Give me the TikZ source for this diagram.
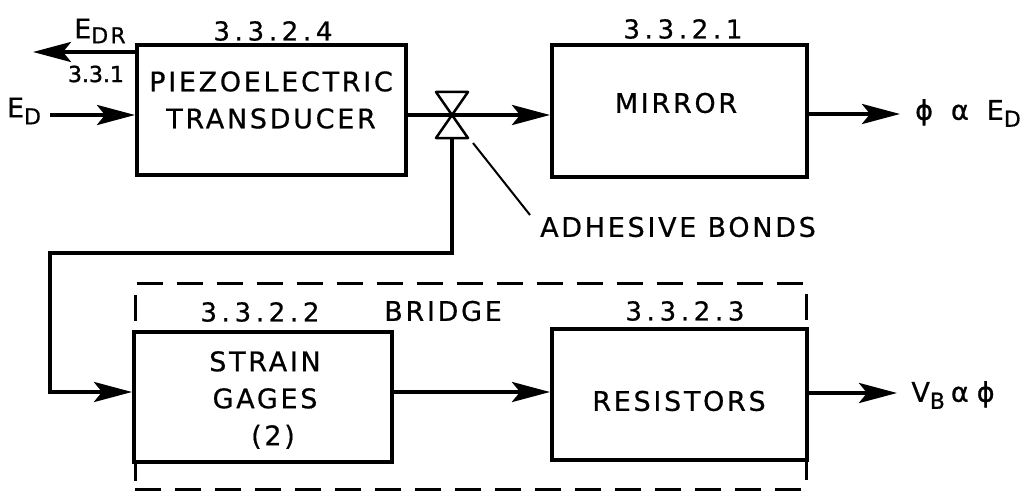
\documentclass[tikz,border=0pt]{standalone}
\usepackage{fontspec}
\setmainfont{DejaVu Sans}[LetterSpace=10,FakeBold=0.6]
\newfontfamily\numf{DejaVu Sans}[LetterSpace=18,FakeBold=0.6]
\newfontfamily\tightf{DejaVu Sans}[LetterSpace=0,FakeBold=1.5]
\newfontfamily\symf{DejaVu Sans}[FakeBold=1]
\usetikzlibrary{arrows.meta,calc}
\tikzset{
 box/.style={draw, line width=4pt, fill=white, inner sep=0pt},
 bridgebox/.style={draw, line width=3pt, dash pattern=on 26pt off 14pt, inner sep=0pt},
 txt/.style={font=\fontsize{27}{37}\selectfont, align=center, inner sep=0pt},
 num/.style={font=\fontsize{26}{28}\selectfont\numf, inner sep=0pt},
 conn/.style={line width=4pt, -{Stealth[length=38pt,width=20pt,inset=8pt]}},
 valve/.style={line width=2.5pt, fill=white, line join=round},
 leader/.style={line width=2pt},
}
\newcommand{\subtxt}[2][-7pt]{\raisebox{#1}{\fontsize{22}{22}\selectfont #2}}
\begin{document}
\begin{tikzpicture}[x=1pt,y=-1pt]
\useasboundingbox (0,0) rectangle (1030,492);
% bridge group
\node[bridgebox, minimum width=671pt, minimum height=206pt] (br) at (470.5,386) {};
% boxes
\node[box, minimum width=269pt, minimum height=130pt] (pz) at (271.5,110) {};
\node[box, minimum width=255pt, minimum height=132pt] (mr) at (679.5,111) {};
\node[box, minimum width=258pt, minimum height=130pt] (sg) at (263,397) {};
\node[box, minimum width=255pt, minimum height=131pt] (rs) at (679.5,394.5) {};
% box texts
\node[txt] (pzt) at (271,100) {PIEZOELECTRIC\\TRANSDUCER};
\node[txt] (mrt) at (676,103) {MIRROR};
\node[txt] (sgt) at (265,400) {STRAIN\\GAGES\\\hspace*{16pt}(2)};
\node[txt] (rst) at (679,401) {RESISTORS};
% labels
\node[num] (n4) at (273,31) {3.3.2.4};
\node[num] (n1) at (683,29) {3.3.2.1};
\node[num] (n2) at (260,312) {3.3.2.2};
\node[num] (n3) at (685,311) {3.3.2.3};
\node[txt] (brt) at (443,311) {BRIDGE};
\node[txt] (adh) at (678,227) {ADHESIVE BONDS};
\node[font=\fontsize{22}{22}\selectfont\tightf, inner sep=0pt] (n331) at (96,74) {3.3.1};
\node[txt] (edrt) at (100,31) {E\subtxt[-5pt]{DR}};
\node[txt] (edt) at (24,111) {E\subtxt{D}};
\node[txt] (phit) at (968,113) {{\symf ϕ}\hspace{18pt}{\symf α}\hspace{18pt}E\subtxt{D}};
\node[txt] (vbt) at (953,395) {V\subtxt{B}\hspace{6pt}{\symf α}\hspace{8pt}{\symf ϕ}};
% coordinates
\coordinate (edr) at (33,52);
\coordinate (edin) at (50,115);
\coordinate (vl) at (452,115);
\coordinate (phiend) at (900,114);
\coordinate (lc) at (50,253);
\coordinate (rowb) at (134,392);
\coordinate (vbend) at (897,393);
\coordinate (ldr) at (473,143);
\coordinate (ldre) at (530,215);
% connectors
\draw[conn] (pz.west |- edr) -- (edr);
\draw[conn] (edin) -- (edin -| pz.west);
\draw[conn] (pz.east |- vl) -- (vl -| mr.west);
\draw[conn] (mr.east |- phiend) -- (phiend);
\draw[conn] ($(vl)+(0,22)$) |- (lc) |- (rowb -| sg.west);
\draw[conn] (sg.east |- rowb) -- (rowb -| rs.west);
\draw[conn] (rs.east |- vbend) -- (vbend);
% adhesive bond symbol
\draw[valve] (vl) -- ++(-16,-23) -- ++(32,0) -- cycle;
\draw[valve] (vl) -- ++(-16,23) -- ++(32,0) -- cycle;
\draw[leader] (ldr) -- (ldre);
\end{tikzpicture}
\end{document}
